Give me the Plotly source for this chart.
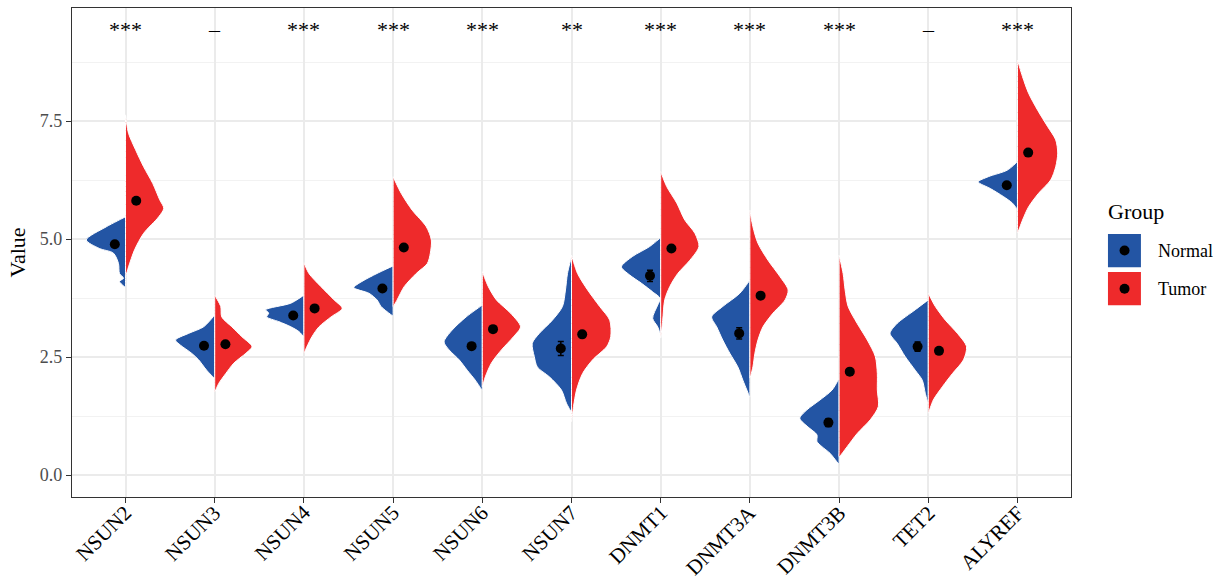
import plotly.graph_objects as go

# Genes on the x axis and significance of the Normal vs Tumor comparison
genes = ["NSUN2", "NSUN3", "NSUN4", "NSUN5", "NSUN6", "NSUN7",
         "DNMT1", "DNMT3A", "DNMT3B", "TET2", "ALYREF"]
signif = ["***", "–", "***", "***", "***", "**", "***", "***", "***", "–", "***"]

# Group means and standard errors
normal_mean = [4.89, 2.74, 3.38, 3.95, 2.73, 2.68, 4.22, 3.00, 1.11, 2.72, 6.14]
tumor_mean = [5.81, 2.77, 3.53, 4.82, 3.09, 2.98, 4.80, 3.80, 2.19, 2.63, 6.83]
normal_se = [0.03, 0.03, 0.03, 0.03, 0.04, 0.15, 0.12, 0.12, 0.08, 0.10, 0.03]
tumor_se = [0.03, 0.03, 0.02, 0.03, 0.03, 0.04, 0.03, 0.04, 0.05, 0.04, 0.03]

# Kernel density profiles (value levels and density, relative units) per gene
normal_levels = [
    [3.98, 4.10, 4.17, 4.27, 4.48, 4.70, 4.80, 4.98, 5.26, 5.47],
    [2.05, 2.22, 2.44, 2.58, 2.75, 2.86, 3.00, 3.14, 3.39],
    [2.93, 3.04, 3.14, 3.25, 3.35, 3.43, 3.50, 3.64, 3.81],
    [3.37, 3.46, 3.57, 3.71, 3.85, 3.97, 4.10, 4.27, 4.43],
    [1.80, 2.01, 2.22, 2.44, 2.65, 2.82, 3.07, 3.35, 3.60],
    [1.34, 1.52, 1.80, 2.08, 2.29, 2.51, 2.79, 3.00, 3.28, 3.57, 3.92, 4.27, 4.63],
    [2.97, 3.14, 3.32, 3.60, 3.74, 3.88, 4.06, 4.24, 4.41, 4.63, 4.84, 5.03],
    [1.65, 1.80, 2.01, 2.29, 2.58, 2.86, 3.14, 3.35, 3.57, 3.85, 4.13],
    [0.23, 0.46, 0.60, 0.71, 0.85, 1.02, 1.20, 1.38, 1.59, 1.80, 2.05],
    [1.50, 1.73, 2.01, 2.22, 2.51, 2.79, 3.00, 3.21, 3.50, 3.71],
    [5.63, 5.76, 5.90, 6.07, 6.21, 6.32, 6.46, 6.64],
]
normal_density = [
    [0, 6, 2, 6, 7, 12, 26, 39, 19, 0],
    [0, 8, 16, 23, 34, 39, 26, 11, 0],
    [0, 5, 13, 25, 37, 35, 38, 13, 0],
    [0, 6, 12, 16, 24, 39, 31, 16, 0],
    [0, 7, 15, 23, 33, 38, 30, 16, 0],
    [0, 5, 10, 22, 34, 37, 39, 32, 19, 9, 6, 4, 0],
    [0, 3, 8, 3, 0.5, 8, 19, 31, 39, 28, 11, 0],
    [0, 3, 7, 12, 20, 27, 33, 38, 27, 10, 0],
    [0, 9, 17, 22, 22, 31, 39, 32, 19, 7, 0],
    [0, 3, 6, 13, 23, 31, 38, 31, 13, 0],
    [0, 5, 14, 27, 39, 29, 10, 0],
]
tumor_levels = [
    [4.20, 4.41, 4.77, 5.12, 5.47, 5.65, 5.83, 6.18, 6.53, 6.89, 7.24, 7.63],
    [1.76, 1.94, 2.15, 2.37, 2.58, 2.72, 2.93, 3.14, 3.35, 3.57, 3.81],
    [2.58, 2.72, 2.93, 3.14, 3.35, 3.53, 3.71, 3.99, 4.27, 4.50],
    [3.57, 3.71, 3.99, 4.27, 4.48, 4.70, 4.98, 5.26, 5.61, 5.97, 6.32],
    [1.87, 2.08, 2.37, 2.65, 2.93, 3.14, 3.43, 3.71, 3.99, 4.31],
    [1.13, 1.45, 1.80, 2.15, 2.44, 2.72, 2.93, 3.28, 3.57, 3.92, 4.27, 4.66],
    [2.90, 3.28, 3.71, 3.99, 4.27, 4.55, 4.84, 5.12, 5.40, 5.76, 6.11, 6.43],
    [2.05, 2.29, 2.58, 2.86, 3.14, 3.43, 3.71, 3.92, 4.20, 4.55, 4.91, 5.26, 5.61],
    [0.39, 0.60, 0.88, 1.17, 1.45, 1.80, 2.15, 2.51, 2.86, 3.21, 3.57, 3.92, 4.27, 4.66],
    [1.31, 1.59, 1.87, 2.15, 2.44, 2.72, 3.00, 3.28, 3.57, 3.85],
    [5.13, 5.40, 5.68, 5.97, 6.25, 6.53, 6.82, 7.10, 7.38, 7.73, 8.09, 8.44, 8.79],
]
tumor_density = [
    [0, 3, 9, 18, 33, 38, 34, 27, 18, 10, 3, 0],
    [0, 4, 11, 19, 31, 37, 27, 17, 7, 6, 0],
    [0, 3, 8, 15, 27, 38, 30, 17, 5, 0],
    [0, 4, 11, 23, 34, 37, 38, 33, 19, 8, 0],
    [0, 3, 9, 19, 31, 38, 28, 14, 6, 0],
    [0, 2, 5, 11, 21, 35, 39, 38, 28, 16, 6, 0],
    [0, 2, 4, 9, 17, 29, 38, 34, 24, 16, 6, 0],
    [0, 3, 5, 8, 13, 23, 35, 38, 30, 18, 8, 3, 0],
    [0, 8, 18, 31, 39, 38, 38, 36, 28, 18, 9, 6, 4, 0],
    [0, 5, 14, 24, 35, 38, 29, 17, 7, 0],
    [0, 5, 11, 21, 33, 38, 40, 38, 30, 20, 11, 5, 0],
]

BLUE = "#2355A4"
RED = "#EE2A2B"
FONT = "Liberation Serif"
DENSITY_MAX = 39.0      # density that maps to the full half width
HALF_WIDTH = 0.44       # half-violin width in category units
DODGE = 0.12            # horizontal offset of the mean points

fig = go.Figure()


def half_violin(center, levels, density, side, color):
    xs, ys = [], []
    for y, d in zip(levels, density):
        xs.append(center + side * HALF_WIDTH * d / DENSITY_MAX)
        ys.append(y)
    span = levels[-1] - levels[0]
    # return along the split line so the straight edge stays straight
    for frac in (0.0, 0.02, 0.5, 0.98, 1.0):
        xs.append(center)
        ys.append(levels[-1] - frac * span)
    fig.add_trace(go.Scatter(
        x=xs, y=ys, mode="lines", fill="toself", fillcolor=color,
        line=dict(color="white", width=1, shape="spline", smoothing=0.8),
        hoverinfo="skip", showlegend=False,
    ))


for i, g in enumerate(genes):
    c = i + 1
    half_violin(c, normal_levels[i], normal_density[i], -1, BLUE)
    half_violin(c, tumor_levels[i], tumor_density[i], 1, RED)

positions = list(range(1, len(genes) + 1))
for means, ses, side in ((normal_mean, normal_se, -1), (tumor_mean, tumor_se, 1)):
    fig.add_trace(go.Scatter(
        x=[p + side * DODGE for p in positions], y=means, mode="markers",
        marker=dict(color="black", size=10),
        error_y=dict(type="data", array=ses, color="black", thickness=1.5, width=3),
        hoverinfo="skip", showlegend=False,
    ))

# Significance labels above each gene
for p, s in zip(positions, signif):
    fig.add_annotation(x=p, y=9.44, text=s, showarrow=False,
                       font=dict(family=FONT, size=22, color="black"),
                       xanchor="center", yanchor="middle")

# Rotated gene labels, right end hanging just below each tick
for p, g in zip(positions, genes):
    fig.add_annotation(x=p, xref="x", y=0, yref="paper", text=g,
                       showarrow=False, textangle=-45,
                       xanchor="right", yanchor="top", xshift=14, yshift=-1,
                       font=dict(family=FONT, size=21, color="black"))

# Legend drawn as keys with a dot, title and labels
legend_items = [("Normal", BLUE, 0.504), ("Tumor", RED, 0.426)]
fig.add_annotation(xref="paper", yref="paper", x=1.035, y=0.583, text="Group",
                   showarrow=False, xanchor="left", yanchor="middle",
                   font=dict(family=FONT, size=22, color="black"))
for label, color, yc in legend_items:
    fig.add_shape(type="rect", xref="paper", yref="paper",
                  x0=1.037, x1=1.070, y0=yc - 0.034, y1=yc + 0.034,
                  fillcolor=color, line=dict(color=color, width=0))
    fig.add_shape(type="circle", xref="paper", yref="paper",
                  x0=1.0536 - 0.005, x1=1.0536 + 0.005,
                  y0=yc - 0.0102, y1=yc + 0.0102,
                  fillcolor="black", line=dict(color="black", width=0))
    fig.add_annotation(xref="paper", yref="paper", x=1.085, y=yc, text=label,
                       showarrow=False, xanchor="left", yanchor="middle",
                       font=dict(family=FONT, size=18, color="black"))

fig.update_layout(
    width=1221, height=583,
    margin=dict(l=72, r=150, t=8, b=86, autoexpand=False),
    paper_bgcolor="white", plot_bgcolor="white",
    font=dict(family=FONT),
    showlegend=False,
)
fig.update_xaxes(
    range=[0.4, 11.6], tickmode="array", tickvals=positions,
    showticklabels=False, automargin=False,
    showgrid=True, gridcolor="#EBEBEB", gridwidth=1.6,
    showline=True, mirror=True, linecolor="#333333", linewidth=1.2,
    ticks="outside", ticklen=5, tickcolor="#333333", tickwidth=1.2,
    zeroline=False,
)
fig.update_yaxes(
    range=[-0.466, 9.894], tickmode="array", tickvals=[0, 2.5, 5, 7.5],
    ticktext=["0.0", "2.5", "5.0", "7.5"],
    tickfont=dict(family=FONT, size=18, color="#4D4D4D"),
    automargin=False,
    showgrid=True, gridcolor="#EBEBEB", gridwidth=1.6,
    minor=dict(tickvals=[1.25, 3.75, 6.25, 8.75], showgrid=True,
               gridcolor="#F2F2F2", gridwidth=1, ticks=""),
    showline=True, mirror=True, linecolor="#333333", linewidth=1.2,
    ticks="outside", ticklen=5, tickcolor="#333333", tickwidth=1.2,
    zeroline=False,
    title=dict(text="Value", font=dict(family=FONT, size=22, color="black"),
               standoff=8),
)

fig.write_html("out.html")
